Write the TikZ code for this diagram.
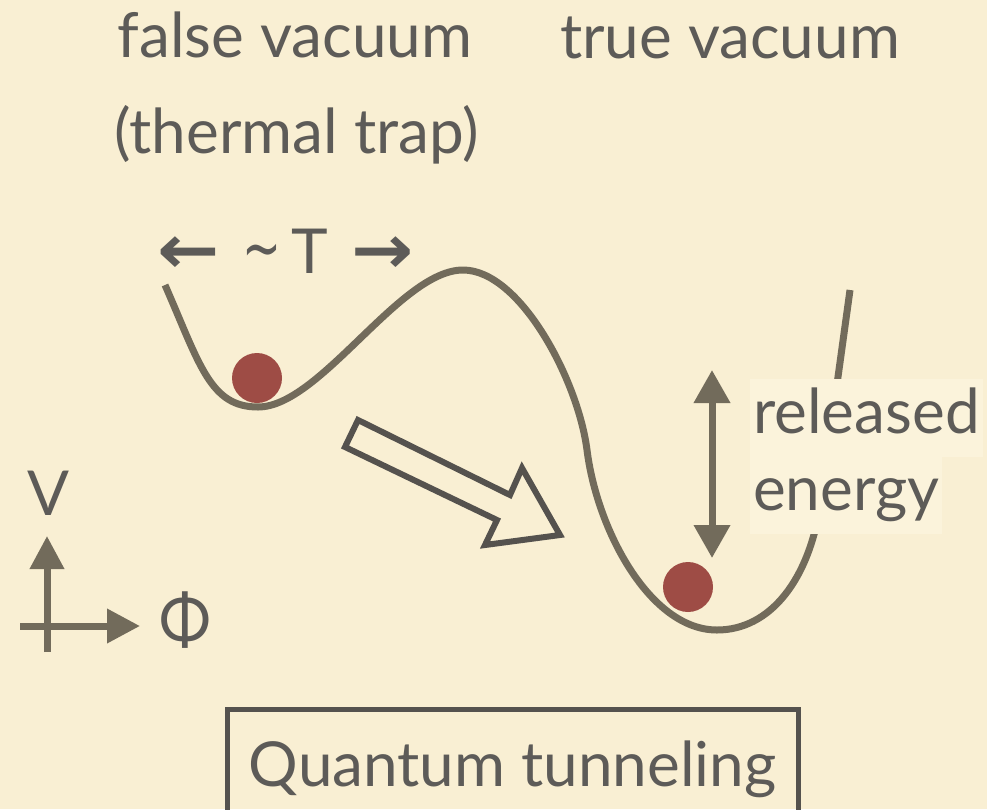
\documentclass[tikz,border=0pt]{standalone}
\usepackage{fontspec}
\setmainfont{Lato}
\newfontfamily\arrowfont{DejaVu Sans}
\usetikzlibrary{arrows.meta}
\definecolor{bgc}{HTML}{F9EFD3}
\definecolor{bgl}{HTML}{FBF3DB}
\definecolor{txt}{HTML}{5D5B58}
\definecolor{crv}{HTML}{726B5B}
\definecolor{ballc}{HTML}{9E4C45}
\definecolor{dk}{HTML}{55524E}
\tikzset{
  lbl/.style={text=txt, font=\fontsize{62}{77}\selectfont, inner sep=0pt},
  potential/.style={draw=crv, line width=7pt, line join=round},
  ballst/.style={circle, fill=ballc, minimum size=50pt, inner sep=0pt},
  axisarrow/.style={draw=crv, line width=7pt, -{Triangle[width=33pt,length=33pt]}},
  dblarrow/.style={draw=crv, line width=7pt, {Triangle[width=35pt,length=33pt]}-{Triangle[width=35pt,length=33pt]}},
  hollow/.style={draw=dk, line width=6pt, line join=miter, fill=none},
  boxst/.style={lbl, draw=dk, line width=5pt, minimum width=571pt, minimum height=120pt},
  covered/.style={lbl, fill=bgl, inner xsep=3pt, inner ysep=4pt, text height=50pt, text depth=20pt}
}
\begin{document}
\begin{tikzpicture}[x=1pt,y=-1pt]
\useasboundingbox (0,0) rectangle (987,809);
\fill[bgc] (0,0) rectangle (987,809);

% titles
\node[lbl, anchor=base] (fv) at (295,57) {false vacuum};
\node[lbl, anchor=base] (tt) at (296.5,153) {(thermal trap)};
\node[lbl, anchor=base] (tv) at (730,58) {true vacuum};

% temperature scale
\node[lbl, anchor=base] (temp) at (286,273) {\scalebox{1.2}[1.1]{\arrowfont\bfseries ←}\hspace{22pt}\raisebox{2pt}{\scalebox{0.75}[1.1]{\arrowfont ∼}}\hspace{10pt}T\hspace{24pt}\scalebox{1.2}[1.1]{\arrowfont\bfseries →}};

% potential curve
\coordinate (c0) at (165,285);
\coordinate (m1) at (258,407);
\coordinate (pk) at (463,270);
\coordinate (in) at (587,450);
\coordinate (m2) at (717,630);
\coordinate (c5) at (821,500);
\coordinate (c6) at (850,290);
\draw[potential] (c0) .. controls (200,365) and (210,407) .. (m1)
  .. controls (320,407) and (400,270) .. (pk)
  .. controls (520,270) and (578,380) .. (in)
  .. controls (597,530) and (650,630) .. (m2)
  .. controls (770,630) and (810,580) .. (c5) -- (c6);

% balls
\node[ballst] (b1) at (257,378) {};
\node[ballst] (b2) at (688,587) {};

% released energy
\node[covered, anchor=base west] (rel) at (750,433) {released};
\node[covered, anchor=base west] (ene) at (750,510) {energy};
\coordinate (etop) at (712,370);
\coordinate (ebot) at (712,558);
\draw[dblarrow] (etop) -- (ebot);

% hollow tunneling arrow
\draw[hollow] (358,420) -- (510,495) -- (522,468) -- (560,535) -- (485,545) -- (497,520) -- (345,447) -- cycle;

% axes
\coordinate (vstart) at (47,652);
\coordinate (vtip) at (47,536);
\coordinate (hstart) at (20,626);
\coordinate (htip) at (140,626);
\draw[axisarrow] (vstart) -- (vtip);
\draw[axisarrow] (hstart) -- (htip);
\node[lbl] (vlab) at (48,493) {V};
\node[lbl] (philab) at (185,620) {\scalebox{1}[1.1]{Φ}};

% box
\node[boxst] (qt) at (512.5,769) {Quantum tunneling};
\end{tikzpicture}
\end{document}
